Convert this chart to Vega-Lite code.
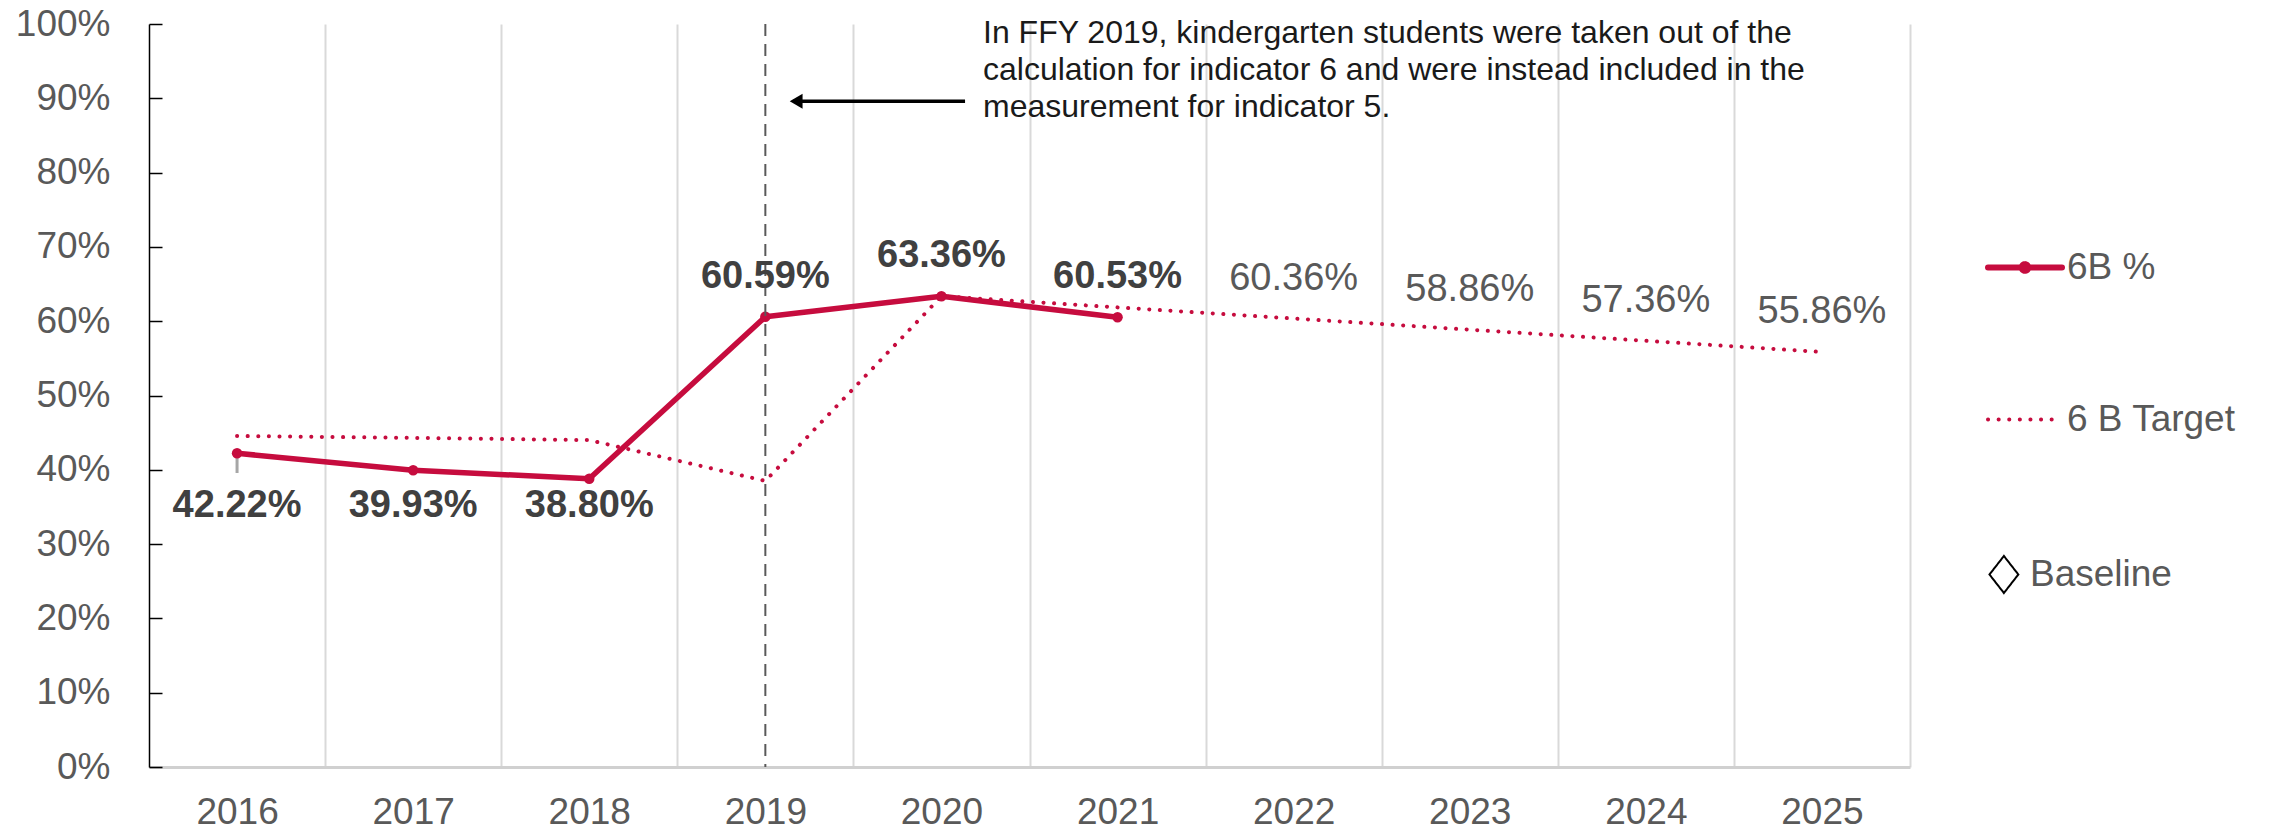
{
  "$schema": "https://vega.github.io/schema/vega-lite/v6.json",
  "width": 1761,
  "height": 743,
  "autosize": {"type": "none"},
  "padding": {"left": 149, "top": 24, "right": 375, "bottom": 65},
  "background": "white",
  "config": {"view": {"stroke": null}, "font": "Liberation Sans"},
  "datasets": {
    "actual": [
      {"year": 2016, "series": "6B %", "value": 0.4222, "label": "42.22%"},
      {"year": 2017, "series": "6B %", "value": 0.3993, "label": "39.93%"},
      {"year": 2018, "series": "6B %", "value": 0.3880, "label": "38.80%"},
      {"year": 2019, "series": "6B %", "value": 0.6059, "label": "60.59%"},
      {"year": 2020, "series": "6B %", "value": 0.6336, "label": "63.36%"},
      {"year": 2021, "series": "6B %", "value": 0.6053, "label": "60.53%"}
    ],
    "target": [
      {"year": 2016, "series": "6 B Target", "value": 0.4455, "label": ""},
      {"year": 2017, "series": "6 B Target", "value": 0.4430, "label": ""},
      {"year": 2018, "series": "6 B Target", "value": 0.4400, "label": ""},
      {"year": 2019, "series": "6 B Target", "value": 0.3850, "label": ""},
      {"year": 2020, "series": "6 B Target", "value": 0.6336, "label": ""},
      {"year": 2021, "series": "6 B Target", "value": 0.6186, "label": ""},
      {"year": 2022, "series": "6 B Target", "value": 0.6036, "label": "60.36%"},
      {"year": 2023, "series": "6 B Target", "value": 0.5886, "label": "58.86%"},
      {"year": 2024, "series": "6 B Target", "value": 0.5736, "label": "57.36%"},
      {"year": 2025, "series": "6 B Target", "value": 0.5586, "label": "55.86%"}
    ],
    "baseline": [
      {"year": 2016, "series": "Baseline", "value": 0.4222, "low": 0.3957}
    ],
    "note": [
      {"text": ["In FFY 2019, kindergarten students were taken out of the", "calculation for indicator 6 and were instead included in the", "measurement for indicator 5."]}
    ]
  },
  "layer": [
    {
      "data": {"name": "target"},
      "mark": {"type": "line", "strokeWidth": 4, "strokeDash": [0.1, 10.5], "strokeCap": "round"},
      "encoding": {
        "x": {
          "field": "year", "type": "quantitative",
          "scale": {"domain": [2015.5, 2025.5], "nice": false, "zero": false},
          "axis": {
            "values": [2016, 2017, 2018, 2019, 2020, 2021, 2022, 2023, 2024, 2025],
            "format": "d", "title": null,
            "labelFont": "Liberation Sans", "labelFontSize": 37, "labelColor": "#595959",
            "labelPadding": 27, "labelFlush": false, "ticks": false,
            "grid": true, "gridColor": "#d9d9d9", "gridWidth": 2,
            "tickOffset": 88.05, "labelOffset": -88.05,
            "domainColor": "#d0d0d0", "domainWidth": 3
          }
        },
        "y": {
          "field": "value", "type": "quantitative",
          "scale": {"domain": [0, 1], "nice": false, "zero": true},
          "axis": {
            "values": [0, 0.1, 0.2, 0.3, 0.4, 0.5, 0.6, 0.7, 0.8, 0.9, 1],
            "format": ".0%", "title": null, "grid": false,
            "labelFont": "Liberation Sans", "labelFontSize": 37, "labelColor": "#595959",
            "labelFlush": false,
            "domainColor": "#000000", "domainWidth": 1.5,
            "ticks": true, "tickColor": "#000000", "tickWidth": 1.5, "tickSize": -13,
            "labelPadding": 52
          }
        },
        "color": {
          "field": "series", "type": "nominal",
          "scale": {"domain": ["6B %", "6 B Target", "Baseline"], "range": ["#c60c3e", "#c60c3e", "#000000"]},
          "legend": {
            "title": null, "orient": "none", "legendX": 1857.5, "legendY": 225,
            "direction": "vertical", "symbolSize": 5476,
            "labelFont": "Liberation Sans", "labelFontSize": 37, "labelColor": "#595959",
            "labelOffset": 23.5, "labelLimit": 0, "rowPadding": 114, "padding": 0,
            "values": ["6B %", "6 B Target", "Baseline"],
            "encode": {
              "symbols": {
                "update": {
                  "shape": {"signal": "datum.value === 'Baseline' ? 'M-0.96,0L-0.57,-0.5L-0.18,0L-0.57,0.5Z' : datum.value === '6B %' ? 'M-1,0L1,0M-0.09,0A0.09,0.09 0 1,0 0.09,0A0.09,0.09 0 1,0 -0.09,0' : 'stroke'"},
                  "fill": {"signal": "datum.value === '6B %' ? '#c60c3e' : 'transparent'"},
                  "stroke": {"signal": "datum.value === 'Baseline' ? '#000000' : '#c60c3e'"},
                  "strokeWidth": {"signal": "datum.value === 'Baseline' ? 2 : datum.value === '6B %' ? 6 : 4"},
                  "strokeDash": {"signal": "datum.value === '6 B Target' ? [0.1, 10.5] : [1, 0]"},
                  "strokeCap": {"value": "round"},
                  "opacity": {"value": 1}
                }
              },
              "labels": {
                "update": {"dx": {"signal": "datum.value === 'Baseline' ? -37 : 0"}}
              }
            }
          }
        }
      }
    },
    {
      "data": {"name": "baseline"},
      "mark": {"type": "rule", "color": "#a6a6a6", "strokeWidth": 3},
      "encoding": {
        "x": {"field": "year", "type": "quantitative"},
        "y": {"field": "value", "type": "quantitative"},
        "y2": {"field": "low"}
      }
    },
    {
      "data": {"name": "actual"},
      "mark": {"type": "line", "strokeWidth": 5.5, "strokeCap": "round", "strokeJoin": "round"},
      "encoding": {
        "x": {"field": "year", "type": "quantitative"},
        "y": {"field": "value", "type": "quantitative"},
        "color": {"field": "series", "type": "nominal"}
      }
    },
    {
      "data": {"name": "actual"},
      "mark": {"type": "point", "filled": true, "size": 110, "opacity": 1, "color": "#c60c3e"},
      "encoding": {
        "x": {"field": "year", "type": "quantitative"},
        "y": {"field": "value", "type": "quantitative"}
      }
    },
    {
      "data": {"name": "note"},
      "mark": {"type": "rule", "color": "#595959", "strokeWidth": 2, "strokeDash": [12, 8]},
      "encoding": {"x": {"datum": 2019, "type": "quantitative"}}
    },
    {
      "data": {"name": "note"},
      "mark": {"type": "rule", "color": "#000000", "strokeWidth": 3.5},
      "encoding": {
        "x": {"datum": 2019.16, "type": "quantitative"},
        "x2": {"datum": 2020.134},
        "y": {"datum": 0.896, "type": "quantitative"}
      }
    },
    {
      "data": {"name": "note"},
      "mark": {"type": "point", "shape": "triangle-left", "filled": true, "color": "#000000", "size": 220, "opacity": 1},
      "encoding": {
        "x": {"datum": 2019.175, "type": "quantitative"},
        "y": {"datum": 0.896, "type": "quantitative"}
      }
    },
    {
      "data": {"name": "note"},
      "mark": {"type": "text", "align": "left", "baseline": "alphabetic", "font": "Liberation Sans", "fontSize": 32, "lineHeight": 37, "color": "#1a1a1a"},
      "encoding": {
        "x": {"datum": 2020.236, "type": "quantitative"},
        "y": {"datum": 0.9738, "type": "quantitative"},
        "text": {"field": "text"}
      }
    },
    {
      "data": {"name": "actual"},
      "transform": [{"filter": "datum.year <= 2018"}],
      "mark": {"type": "text", "align": "center", "baseline": "middle", "font": "Liberation Sans", "fontWeight": "bold", "fontSize": 38, "color": "#404040"},
      "encoding": {
        "x": {"field": "year", "type": "quantitative"},
        "y": {"datum": 0.351, "type": "quantitative"},
        "text": {"field": "label"}
      }
    },
    {
      "data": {"name": "actual"},
      "transform": [{"filter": "datum.year >= 2019"}],
      "mark": {"type": "text", "align": "center", "baseline": "middle", "font": "Liberation Sans", "fontWeight": "bold", "fontSize": 38, "color": "#404040", "dy": -40},
      "encoding": {
        "x": {"field": "year", "type": "quantitative"},
        "y": {"field": "value", "type": "quantitative"},
        "text": {"field": "label"}
      }
    },
    {
      "data": {"name": "target"},
      "transform": [{"filter": "datum.year >= 2022"}],
      "mark": {"type": "text", "align": "center", "baseline": "middle", "font": "Liberation Sans", "fontSize": 38, "color": "#595959", "dy": -40},
      "encoding": {
        "x": {"field": "year", "type": "quantitative"},
        "y": {"field": "value", "type": "quantitative"},
        "text": {"field": "label"}
      }
    }
  ]
}
